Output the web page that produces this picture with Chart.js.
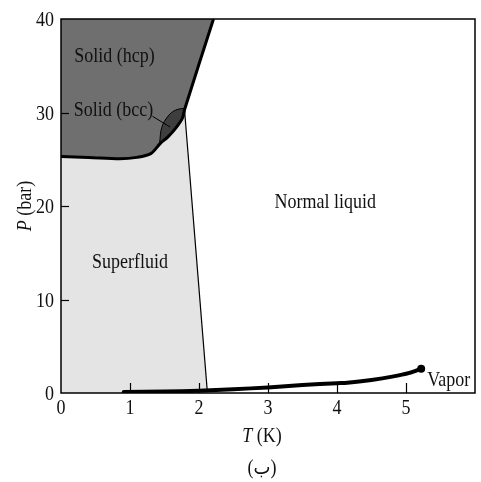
<!DOCTYPE html>
<html>
<head>
<meta charset="utf-8">
<script src="https://cdn.jsdelivr.net/npm/chart.js@4.4.1/dist/chart.umd.min.js"></script>
<style>
  html, body { margin: 0; padding: 0; background: #fff; }
  #wrap { width: 481px; height: 482px; }
</style>
</head>
<body>
<div id="wrap"><canvas id="c" width="481" height="482"></canvas></div>
<script>
// Helium-4 phase diagram: temperature T (K) against pressure P (bar)

// Melting curve (solid / liquid boundary), T in K, P in bar
const meltT = [0, 0.4, 0.85, 1.1, 1.3, 1.44, 1.55, 1.66, 1.76, 1.79, 2.21];
const meltP = [25.3, 25.2, 25.05, 25.2, 25.6, 26.7, 27.4, 28.3, 29.4, 30.3, 40];

// Lambda line (superfluid / normal liquid boundary)
const lambdaT = [1.79, 2.12];
const lambdaP = [30.3, 0.2];

// Vapour-pressure curve, ending at the critical point
const vapT = [0.91, 1.5, 2.0, 2.5, 3.0, 3.5, 4.0, 4.15, 4.5, 4.8, 5.05, 5.22];
const vapP = [0.1, 0.15, 0.25, 0.4, 0.6, 0.85, 1.05, 1.1, 1.4, 1.75, 2.15, 2.6];

// bcc solid pocket, outline traced round the lens
const bccT = [1.43, 1.46, 1.55, 1.66, 1.79, 1.76, 1.66, 1.54, 1.43];
const bccP = [26.8, 28.4, 29.6, 30.25, 30.35, 29.3, 28.2, 27.2, 26.8];

// Axis ticks
const tTicks = [0, 1, 2, 3, 4, 5];
const pTicks = [0, 10, 20, 30, 40];

// Region names
const regionNames = ['Solid (hcp)', 'Solid (bcc)', 'Normal liquid', 'Superfluid', 'Vapor'];
const regionT = [0.775, 0.76, 3.83, 1.0, 5.62];
const regionP = [35.4, 29.6, 19.8, 13.4, 0.75];

// Leader from the "Solid (bcc)" label to the bcc pocket
const leaderT = [1.325, 1.58];
const leaderP = [29.6, 28.45];

const pts = (xs, ys) => xs.map((x, i) => ({ x: x, y: ys[i] }));

const superfluidEdge = pts(meltT.slice(0, 10).concat(lambdaT.slice(1)), meltP.slice(0, 10).concat(lambdaP.slice(1)));

const SERIF = '"Liberation Serif", "DejaVu Serif", serif';
const TEXT_SCALE_Y = 1.12;

// draws text stretched slightly upward, anchored on its baseline
function tallText(ctx, str, x, y, align) {
  ctx.save();
  ctx.translate(x, y);
  ctx.scale(1, TEXT_SCALE_Y);
  ctx.textAlign = align;
  ctx.textBaseline = 'alphabetic';
  ctx.fillText(str, 0, 0);
  ctx.restore();
}

const framePlugin = {
  id: 'frame',
  afterDatasetsDraw(chart) {
    const { ctx, scales } = chart;
    const xs = scales.x, ys = scales.y;
    ctx.save();
    ctx.fillStyle = '#111';
    ctx.font = '18px ' + SERIF;
    regionNames.forEach((name, i) => {
      tallText(ctx, name, xs.getPixelForValue(regionT[i]), ys.getPixelForValue(regionP[i]), 'center');
    });
    ctx.restore();
  },
  afterDraw(chart) {
    const { ctx, chartArea: a, scales } = chart;
    const xs = scales.x, ys = scales.y;
    ctx.save();
    // frame
    ctx.strokeStyle = '#000';
    ctx.lineWidth = 1.5;
    ctx.strokeRect(a.left, a.top, a.right - a.left, a.bottom - a.top);
    // inward tick marks
    ctx.lineWidth = 1.2;
    tTicks.forEach(t => {
      if (t === 0) return;
      const px = Math.round(xs.getPixelForValue(t)) + 0.5;
      ctx.beginPath();
      ctx.moveTo(px, a.bottom);
      ctx.lineTo(px, a.bottom - 10);
      ctx.stroke();
    });
    pTicks.forEach(p => {
      if (p === 0 || p === 40) return;
      const py = Math.round(ys.getPixelForValue(p)) + 0.5;
      ctx.beginPath();
      ctx.moveTo(a.left, py);
      ctx.lineTo(a.left + 8, py);
      ctx.stroke();
    });
    // tick labels
    ctx.fillStyle = '#111';
    ctx.font = '18px ' + SERIF;
    xs.ticks.forEach(tk => {
      if (!tTicks.includes(tk.value)) return;
      tallText(ctx, String(tk.value), xs.getPixelForValue(tk.value), a.bottom + 21, 'center');
    });
    ys.ticks.forEach(tk => {
      tallText(ctx, String(tk.value), a.left - 7, ys.getPixelForValue(tk.value) + 7, 'right');
    });
    // axis titles
    const drawTitle = (x, y, rot, italicPart, plainPart) => {
      ctx.save();
      ctx.translate(x, y);
      ctx.rotate(rot);
      ctx.scale(1, TEXT_SCALE_Y);
      ctx.textBaseline = 'alphabetic';
      ctx.textAlign = 'left';
      ctx.font = 'italic 18px ' + SERIF;
      const w1 = ctx.measureText(italicPart).width;
      ctx.font = '18px ' + SERIF;
      const w2 = ctx.measureText(plainPart).width;
      const x0 = -(w1 + w2) / 2;
      ctx.font = 'italic 18px ' + SERIF;
      ctx.fillText(italicPart, x0, 0);
      ctx.font = '18px ' + SERIF;
      ctx.fillText(plainPart, x0 + w1, 0);
      ctx.restore();
    };
    drawTitle(262, 442, 0, 'T', ' (K)');
    drawTitle(31, 206, -Math.PI / 2, 'P', ' (bar)');
    // caption
    ctx.font = '18px ' + SERIF + ', "DejaVu Sans"';
    tallText(ctx, '(ب)', 262, 474, 'center');
    ctx.restore();
  }
};

new Chart(document.getElementById('c'), {
  type: 'scatter',
  data: {
    datasets: [
      { // vapour-pressure curve
        data: pts(vapT, vapP), showLine: true, borderColor: '#000', borderWidth: 4,
        pointRadius: ctx => ctx.dataIndex === vapT.length - 1 ? 4 : 0,
        pointBackgroundColor: '#000', pointBorderWidth: 0,
        fill: false, order: 1, tension: 0.3, borderCapStyle: 'round'
      },
      { // melting curve
        data: pts(meltT, meltP), showLine: true, borderColor: '#000', borderWidth: 3,
        pointRadius: 0, fill: false, order: 2, tension: 0.3
      },
      { // lambda line
        data: pts(lambdaT, lambdaP), showLine: true, borderColor: '#000', borderWidth: 1.2,
        pointRadius: 0, fill: false, order: 3
      },
      { // leader
        data: pts(leaderT, leaderP), showLine: true, borderColor: '#000', borderWidth: 1,
        pointRadius: 0, fill: false, order: 3
      },
      { // bcc pocket
        data: pts(bccT, bccP), showLine: true, borderColor: '#000', borderWidth: 1,
        backgroundColor: '#3e3e3e', pointRadius: 0, fill: 'shape', order: 4, tension: 0.35
      },
      { // hcp solid region
        data: pts(meltT, meltP), showLine: true, borderWidth: 0, borderColor: 'rgba(0,0,0,0)',
        backgroundColor: '#6f6f6f', pointRadius: 0, fill: 'end', order: 6, tension: 0.3
      },
      { // superfluid region
        data: superfluidEdge, showLine: true, borderWidth: 0, borderColor: 'rgba(0,0,0,0)',
        backgroundColor: '#e4e4e4', pointRadius: 0, fill: 'origin', order: 7, tension: 0.3
      }
    ]
  },
  plugins: [framePlugin],
  options: {
    responsive: false,
    animation: false,
    events: [],
    layout: { padding: { top: 19, right: 6, left: 0, bottom: 0 } },
    plugins: { legend: { display: false }, tooltip: { enabled: false } },
    scales: {
      x: {
        type: 'linear', min: 0, max: 6,
        afterFit: s => { s.height = 89; },
        afterBuildTicks: s => { s.ticks = tTicks.concat([6]).map(v => ({ value: v })); },
        grid: { display: false, drawTicks: false },
        border: { display: false },
        ticks: { display: false }
      },
      y: {
        type: 'linear', min: 0, max: 40,
        afterFit: s => { s.width = 61; },
        afterBuildTicks: s => { s.ticks = pTicks.map(v => ({ value: v })); },
        grid: { display: false, drawTicks: false },
        border: { display: false },
        ticks: { display: false }
      }
    }
  }
});
</script>
</body>
</html>
